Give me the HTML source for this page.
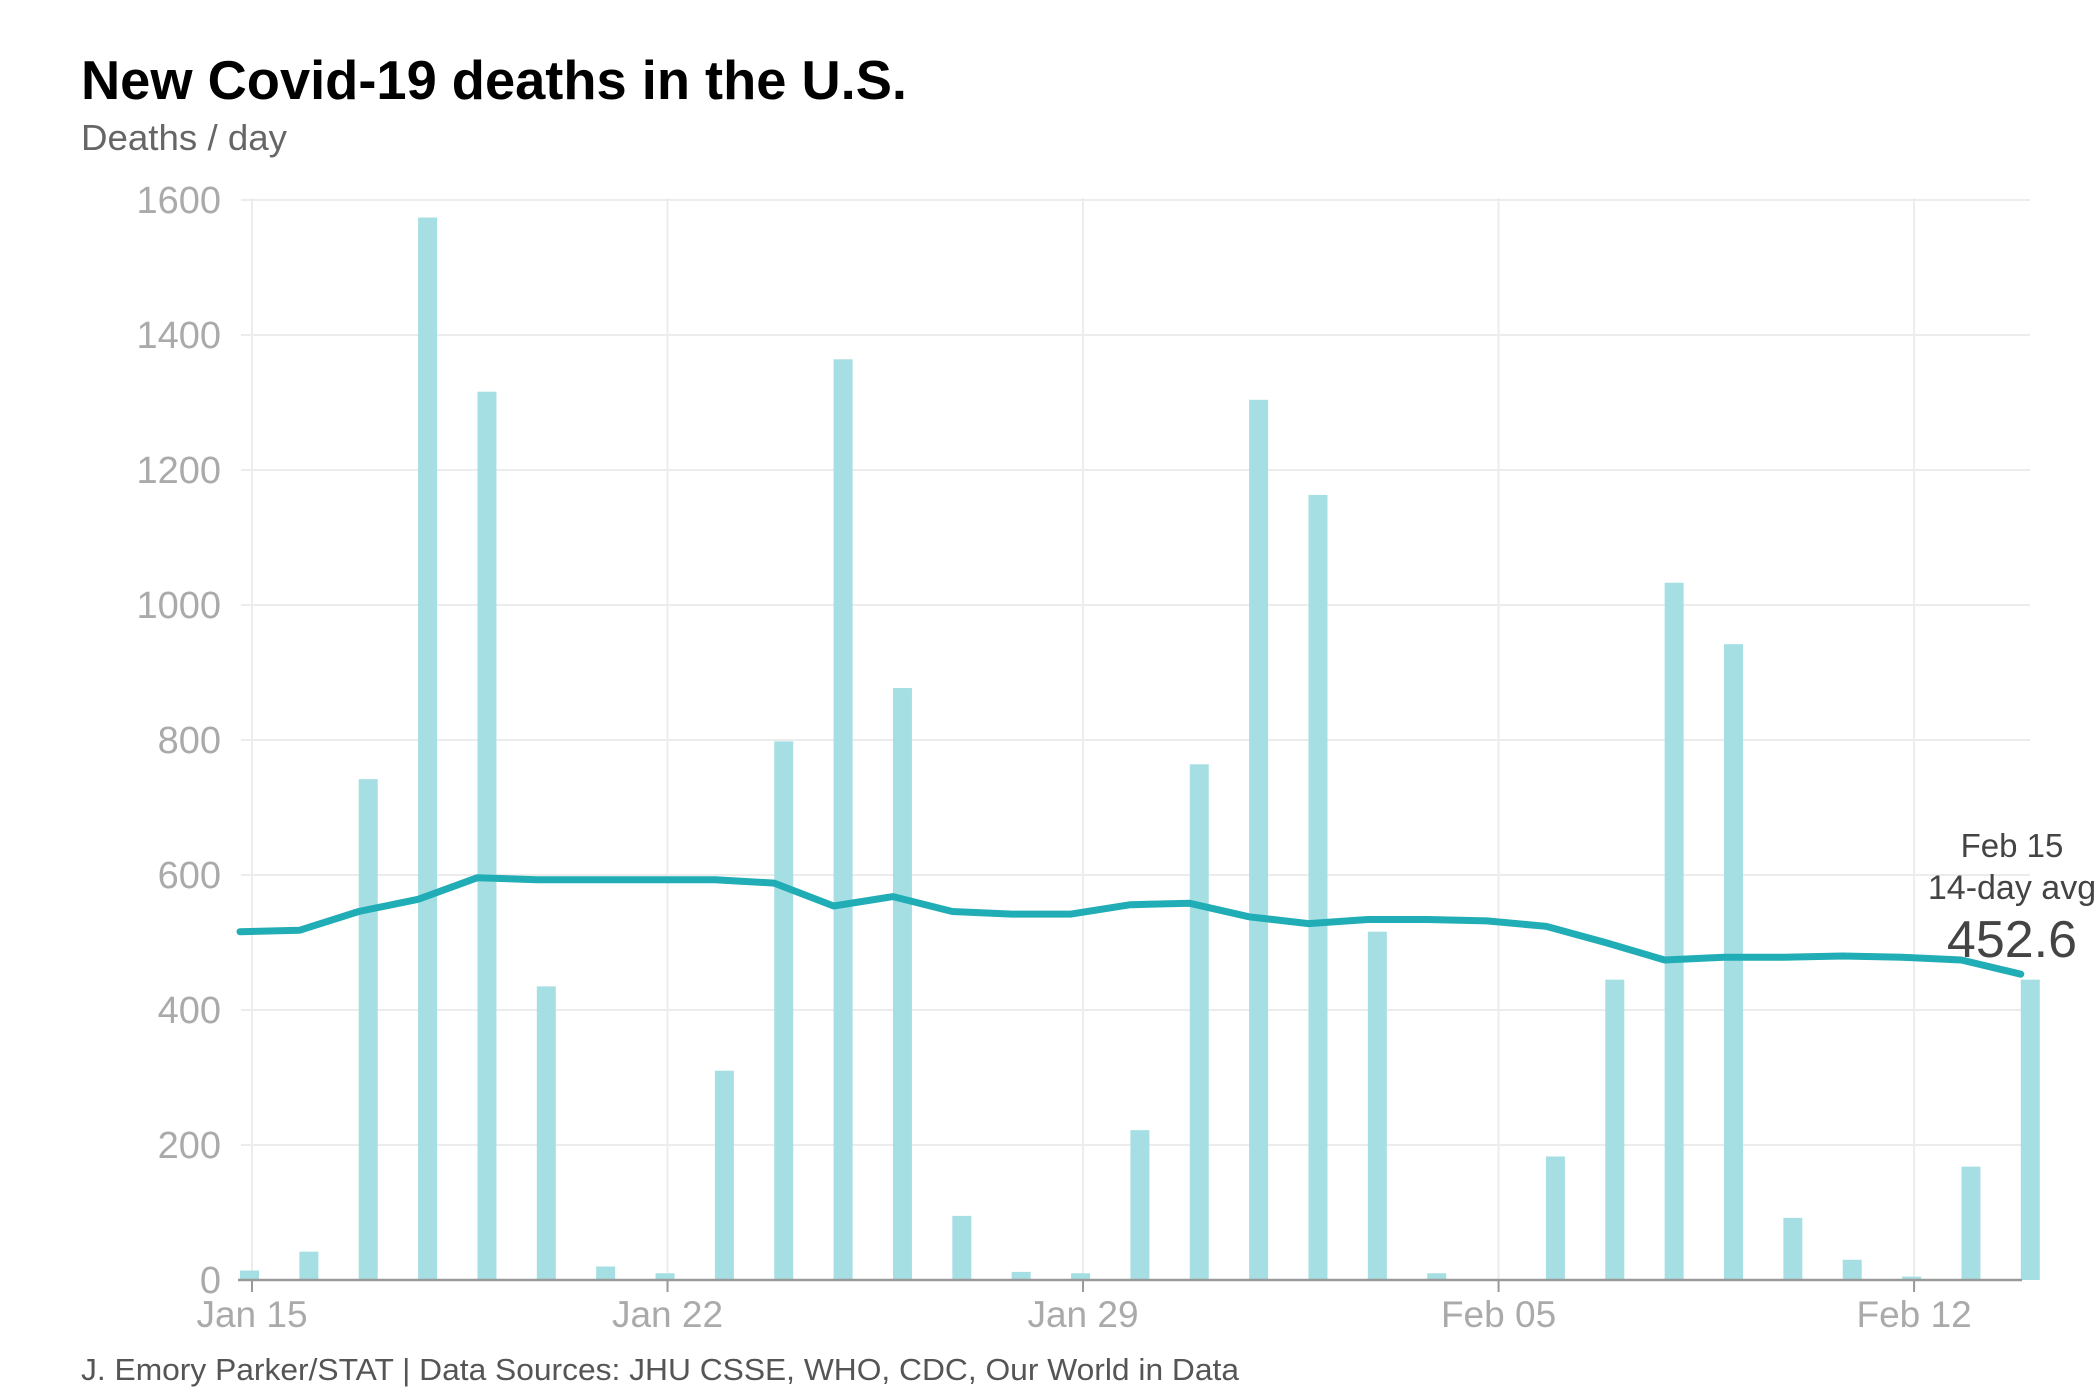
<!DOCTYPE html>
<html><head><meta charset="utf-8"><style>
html,body{margin:0;padding:0;background:#fff;width:2100px;height:1400px;overflow:hidden}
svg text{font-family:"Liberation Sans",sans-serif}
</style></head><body>
<svg id="s" width="2100" height="1400" xmlns="http://www.w3.org/2000/svg">
<text x="81" y="99" font-size="55" font-weight="bold" fill="#000" textLength="826" lengthAdjust="spacingAndGlyphs">New Covid-19 deaths in the U.S.</text>
<text x="81" y="150" font-size="36" fill="#666" textLength="206" lengthAdjust="spacingAndGlyphs">Deaths / day</text>
<g id="g"></g>
<text x="81" y="1380" font-size="31" fill="#555" textLength="1158" lengthAdjust="spacingAndGlyphs">J. Emory Parker/STAT | Data Sources: JHU CSSE, WHO, CDC, Our World in Data</text>
<text x="2012" y="857" font-size="33" fill="#444" text-anchor="middle">Feb 15</text>
<text x="2012" y="899" font-size="34" fill="#444" text-anchor="middle">14-day avg</text>
<text x="2012" y="957" font-size="52" fill="#444" text-anchor="middle">452.6</text>
</svg>
<script>
var D0=252,d=59.36,Y0=1280,k=0.675,h='';
function y(v){return Y0-v*k}
for(var v=200;v<=1600;v+=200){h+='<line x1="241" x2="2030" y1="'+y(v)+'" y2="'+y(v)+'" stroke="#ececec" stroke-width="2"/>';}
var ticks=[[0,'Jan 15'],[7,'Jan 22'],[14,'Jan 29'],[21,'Feb 05'],[28,'Feb 12']];
ticks.forEach(function(t){var x=D0+t[0]*d;h+='<line x1="'+x+'" x2="'+x+'" y1="198" y2="1280" stroke="#ececec" stroke-width="2"/>';});
for(var v=0;v<=1600;v+=200){h+='<text x="221" y="'+(y(v)+13)+'" font-size="38" fill="#aaa" text-anchor="end">'+v+'</text>';}
var bars=[14,42,742,1574,1316,435,20,10,310,798,1364,877,95,12,10,222,764,1304,1163,516,10,0,183,445,1033,942,92,30,5,168,445];
bars.forEach(function(b,i){var x=D0+i*d-12;h+='<rect x="'+x+'" y="'+y(b)+'" width="19" height="'+(b*k)+'" fill="#a6dfe3"/>';});
h+='<line x1="238" x2="2022" y1="1280" y2="1280" stroke="#999" stroke-width="2.5"/>';
ticks.forEach(function(t){var x=D0+t[0]*d;h+='<line x1="'+x+'" x2="'+x+'" y1="1280" y2="1292" stroke="#999" stroke-width="2"/>';
h+='<text x="'+x+'" y="1327" font-size="37" fill="#aaa" text-anchor="middle">'+t[1]+'</text>';});
var avg=[516,518,546,564,596,593,593,593,593,588,554,568,546,542,542,556,558,538,528,534,534,532,524,500,474,478,478,480,478,474,453];
var p=avg.map(function(a,i){return (D0+i*d-12).toFixed(1)+','+y(a).toFixed(1)}).join(' ');
h+='<polyline points="'+p+'" fill="none" stroke="#20adb5" stroke-width="7" stroke-linecap="round" stroke-linejoin="round"/>';
document.getElementById('g').innerHTML=h;
</script>
</body></html>
